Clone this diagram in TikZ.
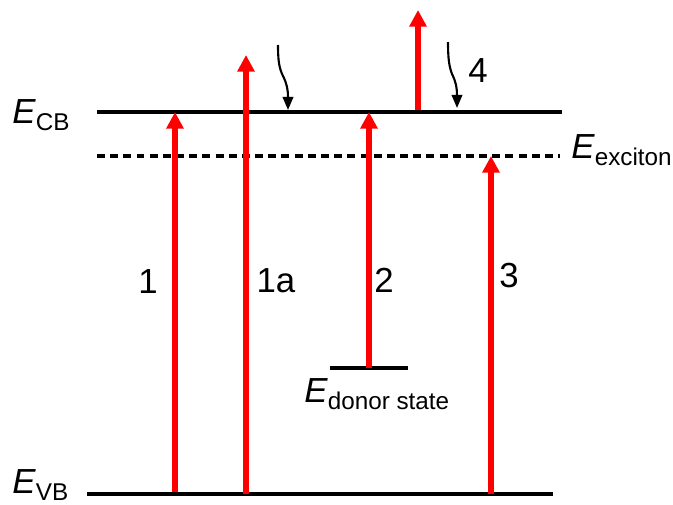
\documentclass[tikz,border=0pt]{standalone}
\usepackage{fontspec}
\setmainfont{Liberation Sans}
\usetikzlibrary{arrows.meta}
\definecolor{BandRed}{HTML}{FF0000}
\definecolor{BandInk}{HTML}{000000}
\newcommand{\lvl}[1]{\textit{E}{\fontsize{13.8}{14}\selectfont\raisebox{-4.5pt}{#1}}}

\begin{document}
\begin{tikzpicture}[x=0.02cm, y=-0.02cm, every node/.style={font=\fontsize{19.8}{21}\selectfont, inner sep=0pt}]
    \useasboundingbox (0,0) rectangle (673,504);

    % energy levels
    \coordinate (cbL) at (97,112);  \coordinate (cbR) at (562,112);
    \coordinate (exL) at (97,156);  \coordinate (exR) at (560,156);
    \coordinate (vbL) at (87,494);  \coordinate (vbR) at (553,494);
    \coordinate (dnL) at (330,368); \coordinate (dnR) at (408,368);
    \draw[line width=2pt, BandInk] (cbL) -- (cbR);
    \draw[line width=1.8pt, BandInk, dash pattern=on 4.5pt off 3pt] (exL) -- (exR);
    \draw[line width=2pt, BandInk] (vbL) -- (vbR);
    \draw[line width=2pt, BandInk] (dnL) -- (dnR);

    \node[anchor=base west] (cblab) at (12,123) {\lvl{CB}};
    \node[anchor=base west] (exlab) at (571,158) {\lvl{exciton}};
    \node[anchor=base west] (vblab) at (12,493) {\lvl{VB}};
    \node[anchor=base west] (dnlab) at (304,402) {\lvl{donor state}};

    % transitions
    \coordinate (vb1) at (175,492);
    \coordinate (vb1a) at (246,494);
    \coordinate (vb3) at (491,494);
    \coordinate (dn2) at (369,368);
    \coordinate (top1a) at (246,55);
    \coordinate (cb4) at (418,110);
    \coordinate (top4) at (418,10);
    \draw[-{Triangle[width=9.5pt,length=9.5pt]}, line width=2.9pt, BandRed] (vb1) -- (vb1 |- cbL);
    \draw[-{Triangle[width=9.5pt,length=9.5pt]}, line width=2.9pt, BandRed] (vb1a) -- (top1a);
    \draw[-{Triangle[width=9.5pt,length=9.5pt]}, line width=2.9pt, BandRed] (dn2) -- (dn2 |- cbL);
    \draw[-{Triangle[width=9.5pt,length=9.5pt]}, line width=2.9pt, BandRed] (vb3) -- (vb3 |- exL);
    \draw[-{Triangle[width=9.5pt,length=9.5pt]}, line width=2.9pt, BandRed] (cb4) -- (top4);

    \node (n1) at (148,282) {1};
    \node (n1a) at (276,281) {1a};
    \node (n2) at (384,280) {2};
    \node (n3) at (509,276) {3};
    \node (n4) at (478,71) {4};

    % relaxation
    \coordinate (w1s) at (278,45);  \coordinate (w1e) at (288,110);
    \coordinate (w2s) at (448,42);  \coordinate (w2e) at (457,108);
    \draw[-{Triangle[width=6pt,length=7.5pt]}, line width=1.2pt, BandInk] (w1s) .. controls (278,60) and (279,68) .. (283,76) .. controls (287,84) and (288,90) .. (w1e);
    \draw[-{Triangle[width=6pt,length=7.5pt]}, line width=1.2pt, BandInk] (w2s) .. controls (448,58) and (449,66) .. (452,74) .. controls (456,82) and (457,88) .. (w2e);
\end{tikzpicture}
\end{document}
